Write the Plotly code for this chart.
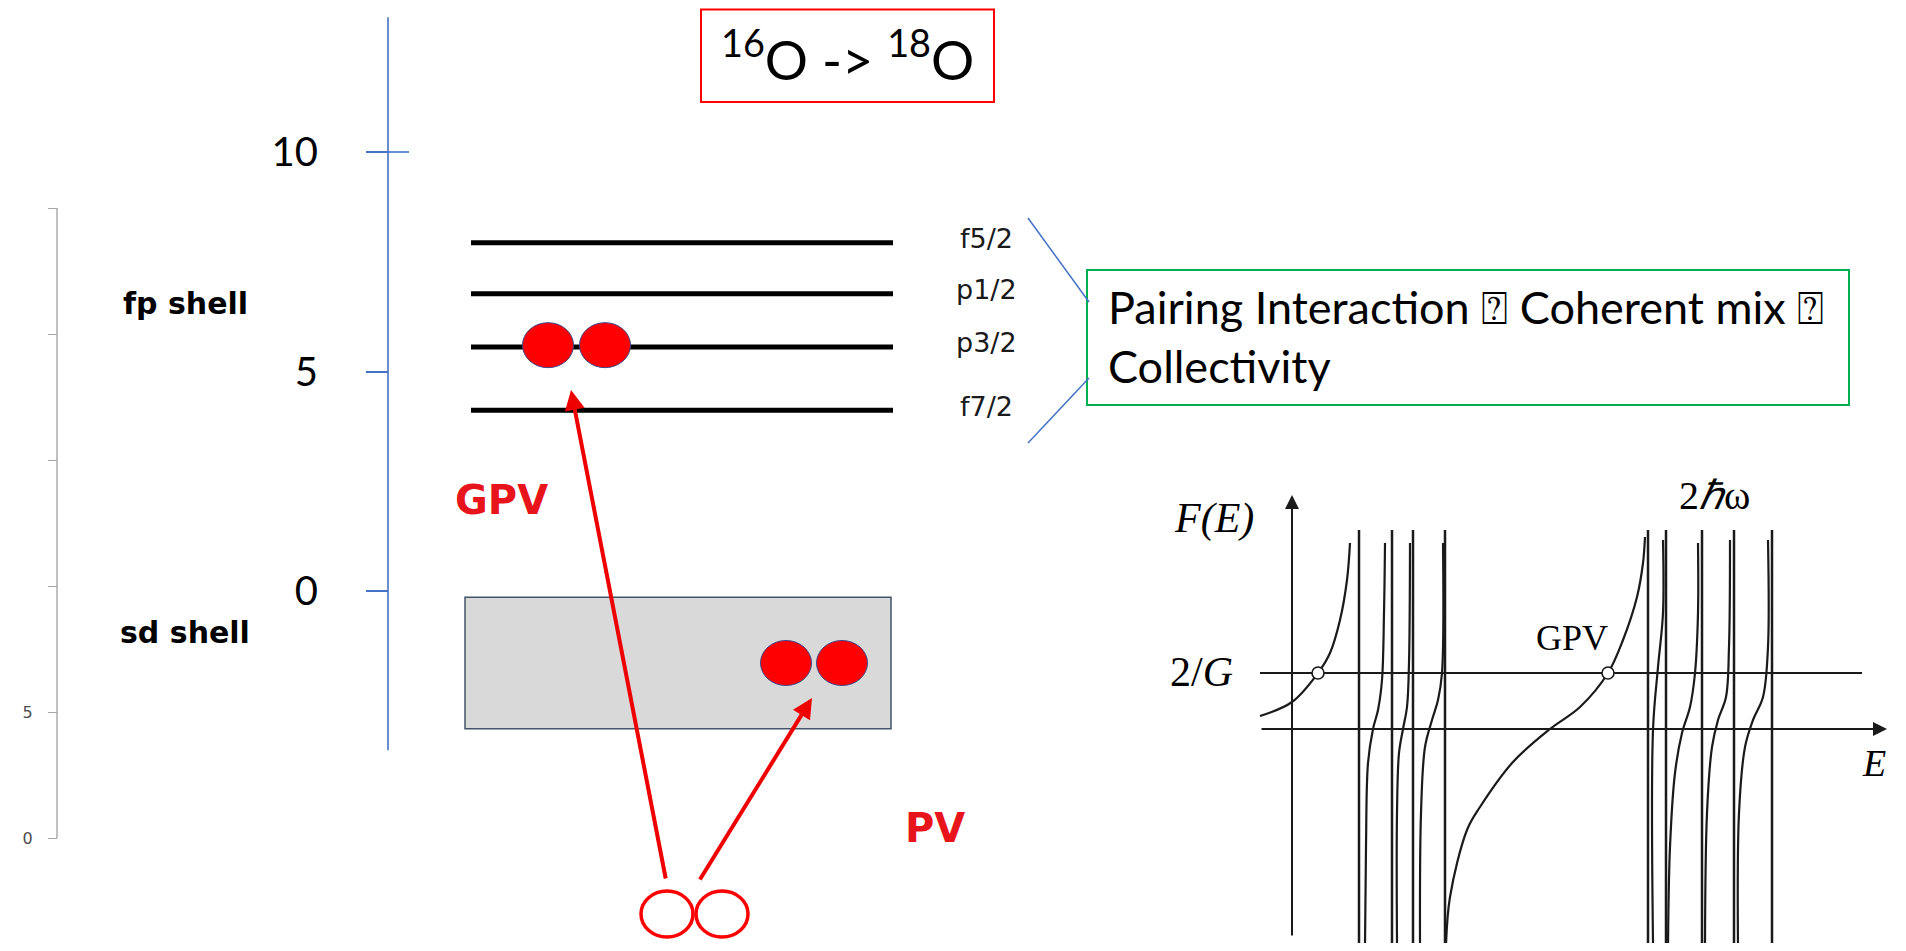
import plotly.graph_objects as go

# page is 1906x951; the plot div sits inside the default 8px body margin
OFF = 8
FIG_W, FIG_H = 1906 - 2 * OFF, 951 - 2 * OFF
BLUE = "#4472C4"
RED = "#FF0000"
ARROW_RED = "#EE0000"

# ---------------- data ----------------
level_names = ["f5/2", "p1/2", "p3/2", "f7/2"]
level_energy = [7.93, 6.77, 5.56, 4.12]          # on the blue energy axis
energy_ticks = [0, 5, 10]
energy_axis_span = [-3.63, 13.07]
gray_labeled_ticks = [0, 5]
gray_unlabeled_ticks = [10, 15, 20, 25]
shell_labels = ["fp shell", "sd shell"]
sd_box_energy = [-0.14, -3.14]
sd_pair_energy = -1.64
fp_pair_energy = 5.60

# F(E) schematic (E, F units of the inset)
poles_E = [0.67, 1.00, 1.21, 1.53, 3.56, 3.74, 4.10, 4.42, 4.80]
pole_F_span = [-2.19, 1.99]
branch_E = [
    [-0.32, 0.00, 0.26, 0.38, 0.48, 0.55, 0.58],
    [0.73, 0.74, 0.76, 0.81, 0.86, 0.90, 0.92, 0.93],
    [1.05, 1.05, 1.07, 1.11, 1.15, 1.17, 1.18],
    [1.28, 1.29, 1.33, 1.40, 1.46, 1.50, 1.51],
    [1.54, 1.58, 1.75, 1.88, 2.21, 2.58, 2.88, 3.16, 3.31, 3.45, 3.51, 3.53],
    [3.61, 3.61, 3.66, 3.71, 3.71],
    [3.76, 3.78, 3.83, 3.90, 3.98, 4.03, 4.06, 4.06],
    [4.13, 4.15, 4.20, 4.26, 4.34, 4.37, 4.38],
    [4.46, 4.47, 4.53, 4.61, 4.71, 4.76, 4.76],
]
branch_F = [
    [0.13, 0.27, 0.56, 0.76, 1.09, 1.49, 1.86],
    [-2.16, -1.18, -0.34, 0.00, 0.19, 0.49, 1.16, 1.86],
    [-2.16, -0.84, -0.24, 0.00, 0.22, 0.66, 1.86],
    [-2.16, -0.84, -0.18, 0.09, 0.29, 0.56, 1.86],
    [-2.16, -1.68, -1.01, -0.78, -0.33, 0.00, 0.22, 0.56, 0.89, 1.32, 1.66, 1.92],
    [-2.14, -0.01, 0.62, 1.16, 1.89],
    [-2.18, -1.18, -0.44, -0.04, 0.22, 0.56, 1.16, 1.86],
    [-2.18, -0.84, -0.18, 0.09, 0.32, 0.82, 1.89],
    [-2.18, -0.84, -0.18, 0.09, 0.32, 0.82, 1.89],
]
two_over_G = 0.56
solutions_E = [0.26, 3.16]
E_axis_span = [-0.32, 5.95]
F_axis_span = [-2.08, 2.34]
G_line_span = [-0.32, 5.70]

# ---------------- layout geometry (page pixels) ----------------
AX_X = 388          # blue axis position
GRAY_X = 57         # gray axis position
LEVEL_X = [471, 893]
PX_PER_E = 43.9
E0_PX = 591
TOP, BOT = OFF, OFF + FIG_H
e_range = [-(BOT - E0_PX) / PX_PER_E, (E0_PX - TOP) / PX_PER_E]
PX_PER_G = 25.2
G0_PX = 838
g_range = [-(BOT - G0_PX) / PX_PER_G, (G0_PX - TOP) / PX_PER_G]
INSET_LEFT = 1240   # page px where the inset x-range starts
INSET_TOP = 480

def fx(px):
    return (px - OFF) / FIG_W

fig = go.Figure()

def line_trace(x, y, xa, ya, color, width, shape="linear"):
    fig.add_trace(go.Scatter(x=x, y=y, xaxis=xa, yaxis=ya, mode="lines",
                             line=dict(color=color, width=width, shape=shape),
                             showlegend=False, hoverinfo="skip", cliponaxis=False))

# blue energy axis line + crossing part of the top tick
line_trace([AX_X, AX_X], energy_axis_span, "x", "y2", BLUE, 1.6)
line_trace([AX_X, AX_X + 21], [energy_ticks[2], energy_ticks[2]], "x", "y2", BLUE, 1.6)
# gray scale axis line
line_trace([GRAY_X, GRAY_X], [gray_labeled_ticks[0], gray_unlabeled_ticks[-1]], "x", "y3", "#A6A6A6", 1.4)

# single-particle levels
for e in level_energy:
    line_trace(LEVEL_X, [e, e], "x", "y2", "black", 5)

# ---- F(E) inset ----
for p in poles_E:
    line_trace([p, p], pole_F_span, "x2", "y4", "#1a1a1a", 2.5)
line_trace(G_line_span, [two_over_G, two_over_G], "x2", "y4", "#1a1a1a", 2)
for bx, by in zip(branch_E, branch_F):
    line_trace(bx, by, "x2", "y4", "#1a1a1a", 2.2, shape="spline")
fig.add_trace(go.Scatter(x=solutions_E, y=[two_over_G] * len(solutions_E), xaxis="x2", yaxis="y4",
                         mode="markers", marker=dict(size=12, color="white",
                                                     line=dict(color="#1a1a1a", width=1.6)),
                         showlegend=False, hoverinfo="skip", cliponaxis=False))

shapes = []
# sd shell box
shapes.append(dict(type="rect", xref="x", yref="y2", x0=465, x1=891,
                   y0=sd_box_energy[0], y1=sd_box_energy[1],
                   fillcolor="#D9D9D9", line=dict(color="#44546A", width=1.5)))
# filled pairs
RX, RY_E = 25.5, 22.5 / PX_PER_E
for cx in [548, 605]:
    shapes.append(dict(type="circle", xref="x", yref="y2", x0=cx - RX, x1=cx + RX,
                       y0=fp_pair_energy - RY_E, y1=fp_pair_energy + RY_E,
                       fillcolor=RED, line=dict(color="#3B4A8C", width=1)))
for cx in [786, 842]:
    shapes.append(dict(type="circle", xref="x", yref="y2", x0=cx - RX, x1=cx + RX,
                       y0=sd_pair_energy - RY_E, y1=sd_pair_energy + RY_E,
                       fillcolor=RED, line=dict(color="#3B4A8C", width=1)))
# hollow pair at bottom
for cx in [667, 722]:
    shapes.append(dict(type="circle", xref="x", yref="y", x0=cx - 26, x1=cx + 26,
                       y0=891, y1=937, fillcolor="white", line=dict(color=RED, width=3.5)))
# red title box and green comment box
shapes.append(dict(type="rect", xref="x", yref="y", x0=701, x1=994, y0=9.5, y1=102,
                   line=dict(color=RED, width=2)))
shapes.append(dict(type="rect", xref="x", yref="y", x0=1087, x1=1849, y0=270, y1=405,
                   line=dict(color="#00B050", width=2)))
# connector lines
shapes.append(dict(type="line", xref="x", yref="y", x0=1028, y0=218, x1=1089, y1=302,
                   line=dict(color=BLUE, width=1.5)))
shapes.append(dict(type="line", xref="x", yref="y", x0=1089, y0=378, x1=1028, y1=443,
                   line=dict(color=BLUE, width=1.5)))

ann = []
# arrows
ann.append(dict(x=571, y=390, ax=666, ay=880, xref="x", yref="y", axref="x", ayref="y",
                showarrow=True, arrowhead=2, arrowsize=1, arrowwidth=4, arrowcolor=ARROW_RED, text=""))
ann.append(dict(x=812, y=698, ax=699, ay=881, xref="x", yref="y", axref="x", ayref="y",
                showarrow=True, arrowhead=2, arrowsize=1, arrowwidth=4, arrowcolor=ARROW_RED, text=""))
# inset axes arrows
ann.append(dict(x=0, y=F_axis_span[1], ax=0, ay=F_axis_span[0], xref="x2", yref="y4",
                axref="x2", ayref="y4", showarrow=True, arrowhead=2, arrowsize=1.4,
                arrowwidth=2, arrowcolor="#1a1a1a", text=""))
ann.append(dict(x=E_axis_span[1], y=0, ax=E_axis_span[0], ay=0, xref="x2", yref="y4",
                axref="x2", ayref="y4", showarrow=True, arrowhead=2, arrowsize=1.4,
                arrowwidth=2, arrowcolor="#1a1a1a", text=""))

def text(x, y, t, size, family, color="black", xanchor="center", xref="x", yref="y", yshift=0, align="center"):
    ann.append(dict(x=x, y=y, xref=xref, yref=yref, text=t, showarrow=False,
                    xanchor=xanchor, yanchor="middle", yshift=yshift, align=align,
                    font=dict(size=size, family=family, color=color)))

text(847, 56, "<sup>16</sup>O -&gt; <sup>18</sup>O", 54, "Lato")
text(1106, 336, "Pairing Interaction \u2370 Coherent mix \u2370<br>Collectivity", 45, "Lato",
     xanchor="left", align="left")
for name, e in zip(level_names, level_energy):
    text(986, e, name, 27, "DejaVu Sans", color="#1a1a1a", xref="x", yref="y2", yshift=4)
text(185, 303, "<b>" + shell_labels[0] + "</b>", 30, "DejaVu Sans")
text(185, 632, "<b>" + shell_labels[1] + "</b>", 30, "DejaVu Sans")
text(501, 500, "<b>GPV</b>", 40, "DejaVu Sans", color="#E8141B")
text(935, 828, "<b>PV</b>", 40, "DejaVu Sans", color="#E8141B")
# inset labels
SERIF = "Liberation Serif"
text(1214, 518, "<i>F(E)</i>", 42, SERIF)
text(1201, 672, "2/<i>G</i>", 42, SERIF)
text(1874, 763, "<i>E</i>", 38, SERIF)
text(1714, 495, "2<i>\u210f</i>\u03c9", 40, SERIF)
text(1572, 638, "GPV", 36, SERIF)

fig.update_layout(
    width=FIG_W, height=FIG_H, margin=dict(l=0, r=0, t=0, b=0),
    paper_bgcolor="white", plot_bgcolor="rgba(0,0,0,0)", showlegend=False,
    xaxis=dict(domain=[0, 1], range=[OFF, OFF + FIG_W], visible=False, fixedrange=True),
    yaxis=dict(domain=[0, 1], range=[BOT, TOP], visible=False, fixedrange=True),
    yaxis2=dict(overlaying="y", anchor="free", position=fx(AX_X), side="left",
                range=e_range, tickvals=energy_ticks, ticks="outside", ticklen=22,
                tickwidth=1.6, tickcolor=BLUE, showline=False, showgrid=False,
                zeroline=False, ticklabelstandoff=40,
                tickfont=dict(family="Lato", size=40, color="black")),
    yaxis3=dict(overlaying="y", anchor="free", position=fx(GRAY_X), side="left",
                range=g_range, tickvals=gray_labeled_ticks,
                ticks="outside", ticklen=9, tickwidth=1.2, tickcolor="#A6A6A6",
                minor=dict(tickvals=gray_unlabeled_ticks, ticks="outside", ticklen=9,
                           tickwidth=1.2, tickcolor="#A6A6A6", showgrid=False),
                showline=False, showgrid=False, zeroline=False, ticklabelstandoff=12,
                tickfont=dict(family="DejaVu Sans", size=16, color="#4d4d4d")),
    xaxis2=dict(domain=[fx(INSET_LEFT), 1], range=[-0.52, -0.52 + (OFF + FIG_W - INSET_LEFT) / 100],
                visible=False, anchor="y4"),
    yaxis4=dict(domain=[0, (BOT - INSET_TOP) / FIG_H], range=[(729 - BOT) / 100, 2.49],
                visible=False, anchor="x2"),
    shapes=shapes, annotations=ann,
)

fig.write_html("out.html")
